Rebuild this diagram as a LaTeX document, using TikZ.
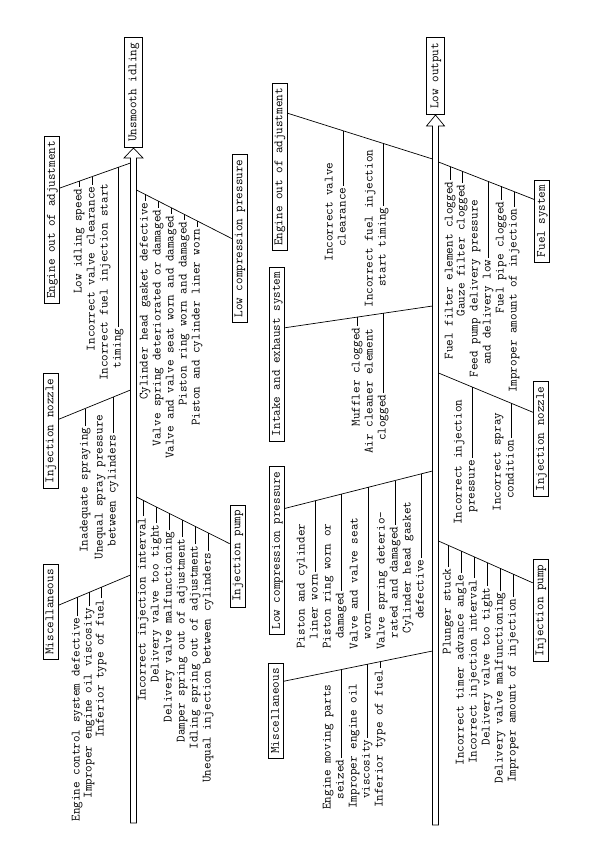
\documentclass[tikz,border=0pt]{standalone}
\usetikzlibrary{calc}
\newcommand\linkcause[3]{\draw let \p1=(#2), \p2=(#3), \p3=(#1.east) in
  (\p3) -- (\x3,{\y1+(\y2-\y1)/(\x2-\x1)*(\x3-\x1)});}
\begin{document}
\begin{tikzpicture}[x=1pt,y=-1pt,line width=0.7pt,
    font=\ttfamily\fontsize{12.75}{13}\selectfont,
    cause/.style={rotate=90,anchor=east,inner xsep=1.5pt,inner ysep=0pt,text height=7pt,text depth=2pt},
    group/.style={draw,rotate=90,inner xsep=5pt,inner ysep=0pt,minimum height=15pt,text height=8pt,text depth=2.5pt},
    effect/.style={group,inner xsep=6pt,minimum height=18pt,anchor=west}]
  \useasboundingbox (0,0) rectangle (595,842);

  \coordinate (Ltip) at (133.5,148);
  \coordinate (Rtip) at (435.5,115);
  \draw (130.5,823) -- (130.5,158) -- (124,158) -- (Ltip) -- (143,158) -- (136.5,158) -- (136.5,823) -- cycle;
  \draw (432.5,825) -- (432.5,126) -- (426.5,126) -- (Rtip) -- (444.5,126) -- (438.5,126) -- (438.5,825) -- cycle;
  \node[effect] (idle) at (Ltip) {Unsmooth idling};
  \node[effect] (output) at (Rtip) {Low output};

  \node[group] (lg1) at (52,220) {Engine out of adjustment};
  \node[group] (lg2) at (50.5,431) {Injection nozzle};
  \node[group] (lg3) at (50.5,612) {Miscellaneous};
  \node[group] (lg4) at (239.5,238.5) {Low compression pressure};
  \node[group] (lg5) at (237.5,556) {Injection pump};

  \node[group] (rg1) at (279.5,167) {Engine out of adjustment};
  \node[group] (rg2) at (277,354) {Intake and exhaust system};
  \node[group] (rg3) at (277,550.5) {Low compression pressure};
  \node[group] (rg4) at (276,711) {Miscellaneous};
  \node[group] (rg5) at (542,221) {Fuel system};
  \node[group] (rg6) at (541,439) {Injection nozzle};
  \node[group] (rg7) at (540.5,610.5) {Injection pump};

  \coordinate (ls1) at (130.5,163);
  \coordinate (ls2) at (130.5,390);
  \coordinate (ls3) at (130.5,575);
  \coordinate (ls4) at (136.5,190);
  \coordinate (ls5) at (136.5,497);
  \coordinate (rs1) at (432.5,159);
  \coordinate (rs2) at (432.5,306);
  \coordinate (rs3) at (432.5,471);
  \coordinate (rs4) at (432.5,651);
  \coordinate (rs5) at (438.5,162);
  \coordinate (rs6) at (438.5,373);
  \coordinate (rs7) at (438.5,541);

  \coordinate (lb1) at ($(lg1.south east)!0.31!(lg1.south west)$);
  \coordinate (lb2) at ($(lg2.south east)!0.40!(lg2.south west)$);
  \coordinate (lb3) at ($(lg3.south east)!0.43!(lg3.south west)$);
  \coordinate (lb4) at (lg4.north);
  \coordinate (lb5) at ($(lg5.north east)!0.38!(lg5.north west)$);
  \coordinate (rb1) at ($(rg1.south east)!0.18!(rg1.south west)$);
  \coordinate (rb2) at ($(rg2.south east)!0.35!(rg2.south west)$);
  \coordinate (rb3) at ($(rg3.south east)!0.25!(rg3.south west)$);
  \coordinate (rb4) at ($(rg4.south east)!0.19!(rg4.south west)$);
  \coordinate (rb5) at ($(rg5.north east)!0.24!(rg5.north west)$);
  \coordinate (rb6) at ($(rg6.north east)!0.27!(rg6.north west)$);
  \coordinate (rb7) at ($(rg7.north east)!0.23!(rg7.north west)$);

  \foreach \i in {1,...,5} \draw (lb\i) -- (ls\i);
  \foreach \i in {1,...,7} \draw (rb\i) -- (rs\i);

  \node[cause] (l1a) at (79,187) {Low idling speed};
  \node[cause] (l1b) at (92,185) {Incorrect valve clearance};
  \node[cause] (l1c) at (105,182) {Incorrect fuel injection start};
  \node[cause] (l1d) at (118,327) {timing};

  \node[cause] (l2a) at (85,426) {Inadequate spraying};
  \node[cause] (l2b) at (100,413) {Unequal spray pressure};
  \node[cause] (l2c) at (113,433) {between cylinders};

  \node[cause] (l3a) at (77,616) {Engine control system defective};
  \node[cause] (l3b) at (89,606) {Improper engine oil viscosity};
  \node[cause] (l3c) at (101,598) {Inferior type of fuel};

  \node[cause] (l4a) at (145,201) {Cylinder head gasket defective};
  \node[cause] (l4b) at (158,208) {Valve spring deteriorated or damaged};
  \node[cause] (l4c) at (171,214) {Valve and valve seat worn and damaged};
  \node[cause] (l4d) at (184,220) {Piston ring worn and damaged};
  \node[cause] (l4e) at (197,227) {Piston and cylinder liner worn};

  \node[cause] (l5a) at (143,516) {Incorrect injection interval};
  \node[cause] (l5b) at (156,523) {Delivery valve too tight};
  \node[cause] (l5c) at (169,530) {Delivery valve malfunctioning};
  \node[cause] (l5d) at (182,537) {Damper spring out of adjustment};
  \node[cause] (l5e) at (195,544) {Idling spring out of adjustment};
  \node[cause] (l5f) at (208,551) {Unequal injection between cylinders};

  \node[cause] (r1a) at (330,161) {Incorrect valve};
  \node[cause] (r1b) at (343,186) {clearance};
  \node[cause] (r1c) at (370,148) {Incorrect fuel injection};
  \node[cause] (r1d) at (383,206) {start timing};

  \node[cause] (r2a) at (357,326) {Muffler clogged};
  \node[cause] (r2b) at (370,327) {Air cleaner element};
  \node[cause] (r2c) at (383,393) {clogged};

  \node[cause] (r3a) at (302,522) {Piston and cylinder};
  \node[cause] (r3b) at (315,572) {liner worn};
  \node[cause] (r3c) at (328,522) {Piston ring worn or};
  \node[cause] (r3d) at (341,591) {damaged};
  \node[cause] (r3e) at (355,516) {Valve and valve seat};
  \node[cause] (r3f) at (368,611) {worn};
  \node[cause] (r3g) at (382,510) {Valve spring deterio-};
  \node[cause] (r3h) at (395,525) {rated and damaged};
  \node[cause] (r3i) at (408,500) {Cylinder head gasket};
  \node[cause] (r3j) at (421,558) {defective};

  \node[cause] (r4a) at (328,683) {Engine moving parts};
  \node[cause] (r4b) at (341,758) {seized};
  \node[cause] (r4c) at (354,682) {Improper engine oil};
  \node[cause] (r4d) at (367,738) {viscosity};
  \node[cause] (r4e) at (380,668) {Inferior type of fuel};

  \node[cause] (r5a) at (450,180) {Fuel filter element clogged};
  \node[cause] (r5b) at (462,183) {Gauze filter clogged};
  \node[cause] (r5c) at (475,198) {Feed pump delivery pressure};
  \node[cause] (r5d) at (488,258) {and delivery low};
  \node[cause] (r5e) at (501,200) {Fuel pipe clogged};
  \node[cause] (r5f) at (514,207) {Improper amount of injection};

  \node[cause] (r6a) at (459,398) {Incorrect injection};
  \node[cause] (r6b) at (472,458) {pressure};
  \node[cause] (r6c) at (498,411) {Incorrect spray};
  \node[cause] (r6d) at (511,438) {condition};

  \node[cause] (r7a) at (448,567) {Plunger stuck};
  \node[cause] (r7b) at (461,573) {Incorrect timer advance angle};
  \node[cause] (r7c) at (474,578) {Incorrect injection interval};
  \node[cause] (r7d) at (487,586) {Delivery valve too tight};
  \node[cause] (r7e) at (500,591) {Delivery valve malfunctioning};
  \node[cause] (r7f) at (513,597) {Improper amount of injection};

  \foreach \c/\b in {l1a/1,l1b/1,l1d/1,l2a/2,l2c/2,l3a/3,l3b/3,l3c/3,
      l4a/4,l4b/4,l4c/4,l4d/4,l4e/4,l5a/5,l5b/5,l5c/5,l5d/5,l5e/5,l5f/5}
    \linkcause{\c}{lb\b}{ls\b};
  \foreach \c/\b in {r1b/1,r1d/1,r2a/2,r2c/2,r3b/3,r3d/3,r3f/3,r3h/3,r3j/3,
      r4b/4,r4d/4,r4e/4,r5a/5,r5b/5,r5d/5,r5e/5,r5f/5,r6b/6,r6d/6,
      r7a/7,r7b/7,r7c/7,r7d/7,r7e/7,r7f/7}
    \linkcause{\c}{rb\b}{rs\b};
\end{tikzpicture}
\end{document}
